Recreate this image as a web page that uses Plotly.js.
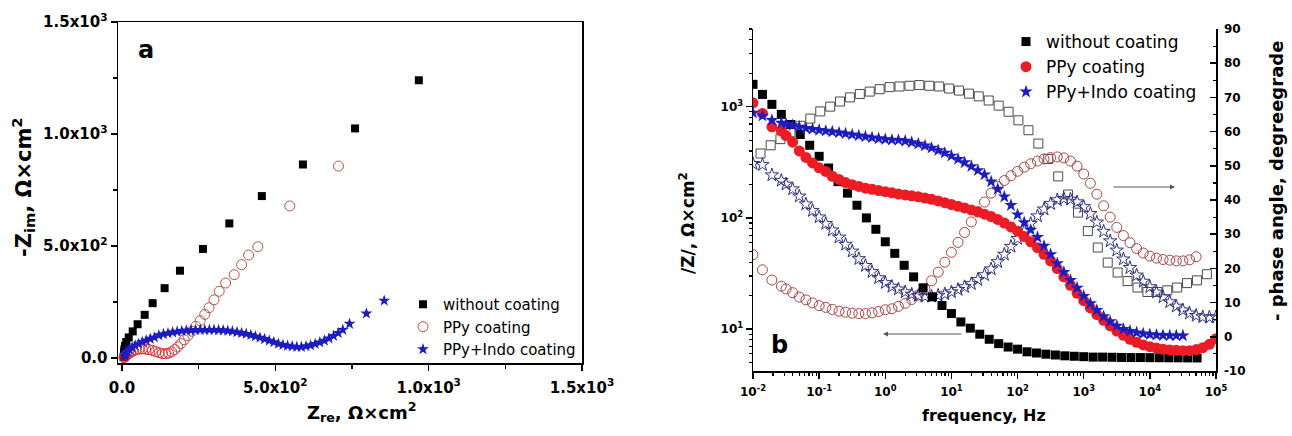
<!DOCTYPE html>
<html><head><meta charset="utf-8">
<script src="https://cdn.plot.ly/plotly-3.0.1.min.js"></script>
<style>html,body{margin:0;padding:0;background:#fff}#chart{width:1292px;height:436px}</style>
</head><body><div id="chart"></div>
<script>
// ---------- Panel a : Nyquist ----------
const nyqBareRe = [968,760,590,456,350,264,189,139,100,74,51,35,22,14,10,8,7,6.5,6,5.8];
const nyqBareIm = [1240,1025,864,723,601,487,390,312,245,193,151,119,92,72,55,40,28,18,10,5];

const nyqPPyRe = [706,547,443,413,390,366,338,317,300,284,270,255,241,228,215,203,192,182,172,162,152,142,132,121,110,99,88,77,66,56,46,37,29,22,16,11,8,6.5];
const nyqPPyIm = [857,679,497,460,417,372,335,298,260,225,195,167,142,120,100,82,65,50,38,28,22,19,20,24,29,34,38,40,41,40,37,32,26,20,14,9,5,2];

const nyqIndoRe = [855,797,742,720,705,690,675,660,645,630,615,600,585,570,555,540,525,510,495,480,465,450,435,420,405,390,375,360,345,330,315,300,285,270,255,240,225,210,195,180,165,150,135,120,106,92,79,66,54,43,33,24,17,12,9.5];
const nyqIndoIm = [256,199,153,126,112,99,88,78,70,63,57,53,50,50,52,55,59,64,71,78,85,91,97,103,108,112,116,119,122,124,125,126,126,126,126,125,124,123,121,118,115,111,107,102,92,86,79,72,64,56,47,38,29,19,9];

// ---------- Panel b : Bode ----------
const freqBare = [0.01,0.0139,0.0193,0.0268,0.0373,0.0518,0.072,0.1,0.139,0.193,0.268,0.373,0.518,0.72,1,1.39,1.93,2.68,3.73,5.18,7.2,10,13.9,19.3,26.8,37.3,51.8,72,100,139,193,268,373,518,720,1000,1390,1930,2680,3730,5180,7200,10000,13900,19300,26800,37300,51800];
const zBare = [1590,1290,1050,853,692,562,450,358,281,212,167,130,100,79,61,48,37.5,29.5,23.5,19.5,16.3,13.8,11.6,10.2,9.0,8.1,7.4,6.9,6.6,6.25,6.1,5.95,5.85,5.75,5.7,5.65,5.6,5.6,5.58,5.56,5.55,5.55,5.54,5.53,5.52,5.52,5.51,5.5];

const freqBarePh = [0.013,0.0185,0.026,0.0368,0.052,0.0735,0.104,0.147,0.207,0.292,0.412,0.582,0.822,1.16,1.64,2.32,3.27,4.62,6.53,9.23,13,18.4,25.9,36.6,51.8,73.1,103,146,206,291,411,579,819,1156,1633,2307,3258,4603,6501,9183,12970,18320,25880,36480,51520,72780];
const phBare = [53.6,56.0,57.8,59.8,61.7,63.8,65.9,67.3,68.8,70.0,71.0,71.7,72.4,73.0,73.2,73.4,73.6,73.4,73.2,72.6,72.0,71.1,70.3,69.1,67.6,65.8,63.3,60.4,56.5,52.0,46.9,41.6,36.3,30.9,26.1,21.7,18.8,16.3,14.4,13.1,13.1,13.6,14.4,15.7,16.5,18.3];

const freqDense = [0.01,0.0139,0.0193,0.0268,0.0316,0.0398,0.0501,0.0631,0.0794,0.1,0.126,0.158,0.2,0.251,0.316,0.398,0.501,0.631,0.794,1,1.26,1.58,2,2.51,3.16,3.98,5.01,6.31,7.94,10,12.6,15.8,20,25.1,31.6,39.8,50.1,63.1,79.4,100,126,158,200,251,316,398,501,631,794,1000,1260,1580,2000,2510,3160,3980,5010,6310,7940,10000,12600,15800,20000,25100,31600,39800,50100,63100,79400,100000];
const zPPy = [1084,871,659,604,550,480,400,350,312,282,262,237,222,208,199,192,185,181,176,172,168,164,161,158,155,151,147,142,137,132,127,123,118,113,108,103,97,90,83,76,68,61,54,47,41,35,29.5,24.8,21,18,15.5,13.5,12,10.7,9.6,8.8,8.1,7.6,7.2,6.95,6.75,6.6,6.5,6.45,6.4,6.4,6.55,6.8,7.3,8.2];
const zIndo = [881,828,757,716,700,680,660,640,628,617,606,596,584,573,561,550,538,528,518,509,503,500,492,478,464,446,426,405,384,362,338,315,291,268,245,212,182,155,130,107,91,78,67,56,47,39,32.5,27.5,23.5,19.8,17,14.8,13,11.7,10.7,10.0,9.6,9.3,9.1,8.95,8.85,8.8,8.75,8.75,8.75,null,null,null,null,null];
const phPPy = [24.0,19.6,16.6,14.8,14.0,12.9,11.6,10.8,9.9,9.1,8.6,8.0,7.5,7.2,6.9,6.8,6.8,7.0,7.4,7.9,8.2,8.9,9.8,10.9,12.2,14.0,16.4,18.9,21.8,24.7,27.6,30.5,33.6,36.6,39.4,42.0,44.0,45.7,47.1,48.4,49.6,50.6,51.4,52.0,52.4,52.6,52.3,51.4,49.9,47.6,44.9,41.7,38.3,35.0,32.0,29.6,27.5,25.8,24.5,23.6,23.0,22.6,22.4,22.2,22.2,22.5,23.4,null,null,null];
const phIndo = [50.6,50.3,47.3,45.7,44.6,43.2,41.1,38.8,36.9,35.0,33.1,31.2,29.1,27.0,25.0,22.8,20.8,19.0,17.2,15.8,14.7,13.9,13.1,12.4,12.0,11.8,11.8,12.1,12.5,13.1,13.8,14.6,15.5,16.7,18.1,19.8,21.9,24.1,26.4,28.7,30.9,33.1,35.3,37.3,38.9,40.0,40.4,40.2,39.4,38.0,36.0,33.5,30.8,28.0,25.3,22.7,20.2,18.0,16.2,14.6,13.0,11.6,10.2,8.9,7.8,6.9,6.2,5.8,5.7,5.8];

const seriesNames = ['without coating','PPy coating','PPy+Indo coating'];
const nyqTicks = [0,500,1000,1500];
const nyqTickText = ['0.0','5.0x10<sup>2</sup>','1.0x10<sup>3</sup>','1.5x10<sup>3</sup>'];
const freqTicks = [0.01,0.1,1,10,100,1000,10000,100000];
const freqTickText = ['10<sup>-2</sup>','10<sup>-1</sup>','10<sup>0</sup>','10<sup>1</sup>','10<sup>2</sup>','10<sup>3</sup>','10<sup>4</sup>','10<sup>5</sup>'];
const zTicks = [10,100,1000];
const zTickText = ['10<sup>1</sup>','10<sup>2</sup>','10<sup>3</sup>'];
const phTicks = [-10,0,10,20,30,40,50,60,70,80,90];
const phTickText = ['-10','0','10','20','30','40','50','60','70','80','90'];

// ---------- styling ----------
const W = 1292, H = 436;
const px = v => v / W, py = v => 1 - v / H;
const FONT = 'DejaVu Sans, Arial, sans-serif';
const BLUE = '#1c1cc0', RED = '#ec1c24';

const minorLog = [];
for (let d = -2; d < 5; d++) for (let m = 2; m < 10; m++) minorLog.push(m * Math.pow(10, d));

const ppyColors = nyqPPyRe.map((x, i) => (nyqPPyIm[i] < 45 && x < 160) ? '#e42626' : '#b8524a');

const traces = [
  {x: nyqBareRe, y: nyqBareIm, xaxis: 'x', yaxis: 'y', mode: 'markers', name: seriesNames[0], legend: 'legend',
   marker: {symbol: 'square', size: 8, color: '#000'}},
  {x: nyqPPyRe, y: nyqPPyIm, xaxis: 'x', yaxis: 'y', mode: 'markers', name: seriesNames[1], legend: 'legend',
   marker: {symbol: 'circle-open', size: 10, color: ppyColors, line: {width: 1}}},
  {x: nyqIndoRe, y: nyqIndoIm, xaxis: 'x', yaxis: 'y', mode: 'markers', name: seriesNames[2], legend: 'legend',
   marker: {symbol: 'star', size: 9, color: BLUE}},

  {x: freqBarePh, y: phBare, xaxis: 'x2', yaxis: 'y2', mode: 'markers', showlegend: false,
   marker: {symbol: 'square-open', size: 9, color: '#4a4a4a', line: {width: 1}}},
  {x: freqDense, y: phPPy, xaxis: 'x2', yaxis: 'y2', mode: 'markers', showlegend: false,
   marker: {symbol: 'circle-open', size: 10, color: '#ac4444', line: {width: 1}}},
  {x: freqDense, y: phIndo, xaxis: 'x2', yaxis: 'y2', mode: 'markers', showlegend: false,
   marker: {symbol: 'star-open', size: 10, color: '#2e2e80', line: {width: 1}}},

  {x: freqBare, y: zBare, xaxis: 'x2', yaxis: 'y3', mode: 'markers', name: seriesNames[0], legend: 'legend2',
   marker: {symbol: 'square', size: 9, color: '#000'}},
  {x: freqDense, y: zPPy, xaxis: 'x2', yaxis: 'y3', mode: 'markers', name: seriesNames[1], legend: 'legend2',
   marker: {symbol: 'circle', size: 11, color: RED}},
  {x: freqDense, y: zIndo, xaxis: 'x2', yaxis: 'y3', mode: 'markers', name: seriesNames[2], legend: 'legend2',
   marker: {symbol: 'star', size: 10, color: BLUE}}
];

const tickFontA = {family: FONT, size: 15, color: '#000', weight: 'bold'};
const tickFontB = {family: FONT, size: 12, color: '#000', weight: 'bold'};
const axBase = {showgrid: false, zeroline: false, showline: true, linecolor: '#000', linewidth: 1.5,
  tickcolor: '#000', tickwidth: 1.5, fixedrange: true};

const ann = (x, y, text, size, angle, extra) => Object.assign({xref: 'paper', yref: 'paper', x: px(x), y: py(y),
  text: text, showarrow: false, textangle: angle || 0, xanchor: 'center', yanchor: 'middle',
  font: {family: FONT, size: size, color: '#000', weight: 'bold'}}, extra || {});

const layout = {
  width: W, height: H, margin: {l: 0, r: 0, t: 0, b: 0}, paper_bgcolor: '#fff', plot_bgcolor: 'rgba(0,0,0,0)',
  showlegend: true,
  xaxis: Object.assign({}, axBase, {domain: [px(118), px(582)], range: [-13, 1500], anchor: 'y', mirror: true,
    tickmode: 'array', tickvals: nyqTicks, ticktext: nyqTickText, ticks: 'outside', ticklen: 6, tickfont: tickFontA,
    ticklabelstandoff: 4,
    minor: {tickmode: 'linear', tick0: 0, dtick: 250, ticks: 'outside', ticklen: 4, tickcolor: '#000', tickwidth: 1.5}}),
  yaxis: Object.assign({}, axBase, {domain: [1 - 363 / H, 1 - 22 / H], range: [-22, 1500], anchor: 'x', mirror: true,
    tickmode: 'array', tickvals: nyqTicks, ticktext: nyqTickText, ticks: 'outside', ticklen: 6, tickfont: tickFontA,
    minor: {tickmode: 'linear', tick0: 0, dtick: 250, ticks: 'outside', ticklen: 4, tickcolor: '#000', tickwidth: 1.5}}),
  xaxis2: Object.assign({}, axBase, {domain: [px(753), px(1216)], type: 'log', range: [-2, 5], anchor: 'y2',
    tickmode: 'array', tickvals: freqTicks, ticktext: freqTickText, ticks: 'outside', ticklen: 6, tickfont: tickFontB,
    ticklabelstandoff: 3,
    minor: {tickmode: 'array', tickvals: minorLog, ticks: 'outside', ticklen: 3, tickcolor: '#000', tickwidth: 1.2}}),
  yaxis2: Object.assign({}, axBase, {domain: [1 - 371 / H, 1 - 29 / H], range: [-10, 90], anchor: 'x2', side: 'right',
    tickmode: 'array', tickvals: phTicks, ticktext: phTickText, ticks: 'inside', ticklen: 6, tickfont: tickFontB,
    ticklabelstandoff: 4,
    minor: {tickmode: 'linear', tick0: -10, dtick: 5, ticks: 'inside', ticklen: 3, tickcolor: '#000', tickwidth: 1.2}}),
  yaxis3: Object.assign({}, axBase, {type: 'log', range: [Math.log10(4.2), Math.log10(5000)], anchor: 'x2',
    overlaying: 'y2', side: 'left',
    tickmode: 'array', tickvals: zTicks, ticktext: zTickText, ticks: 'outside', ticklen: 6, tickfont: tickFontB,
    minor: {tickmode: 'array', tickvals: minorLog, ticks: 'outside', ticklen: 3, tickcolor: '#000', tickwidth: 1.2}}),
  legend: {x: px(403), y: py(288), xanchor: 'left', yanchor: 'top', bgcolor: 'rgba(0,0,0,0)',
    font: {family: FONT, size: 15, color: '#000'}, tracegroupgap: 0},
  legend2: {x: px(1006), y: py(24), xanchor: 'left', yanchor: 'top', bgcolor: 'rgba(0,0,0,0)',
    font: {family: FONT, size: 17, color: '#000'}, tracegroupgap: 0},
  annotations: [
    ann(146, 50, 'a', 24),
    ann(779, 345, 'b', 24),
    ann(362, 412, 'Z<sub>re</sub>, Ω×cm<sup>2</sup>', 18),
    ann(23, 187, '-Z<sub>im</sub>, Ω×cm<sup>2</sup>', 21, -90),
    ann(984, 415, 'frequency, Hz', 16),
    ann(687, 223, '/Z/, Ω×cm<sup>2</sup>', 17, -90),
    ann(1276, 181, '- phase angle, degreegrade', 18, -90),
    {xref: 'paper', yref: 'paper', x: px(883), y: py(334), ax: 80, ay: 0, text: '', showarrow: true,
     arrowhead: 2, arrowsize: 1, arrowwidth: 1, arrowcolor: '#555'},
    {xref: 'paper', yref: 'paper', x: px(1175), y: py(187), ax: -63, ay: 0, text: '', showarrow: true,
     arrowhead: 2, arrowsize: 1, arrowwidth: 1, arrowcolor: '#555'}
  ]
};

Plotly.newPlot('chart', traces, layout, {displayModeBar: false, staticPlot: true});
</script></body></html>
